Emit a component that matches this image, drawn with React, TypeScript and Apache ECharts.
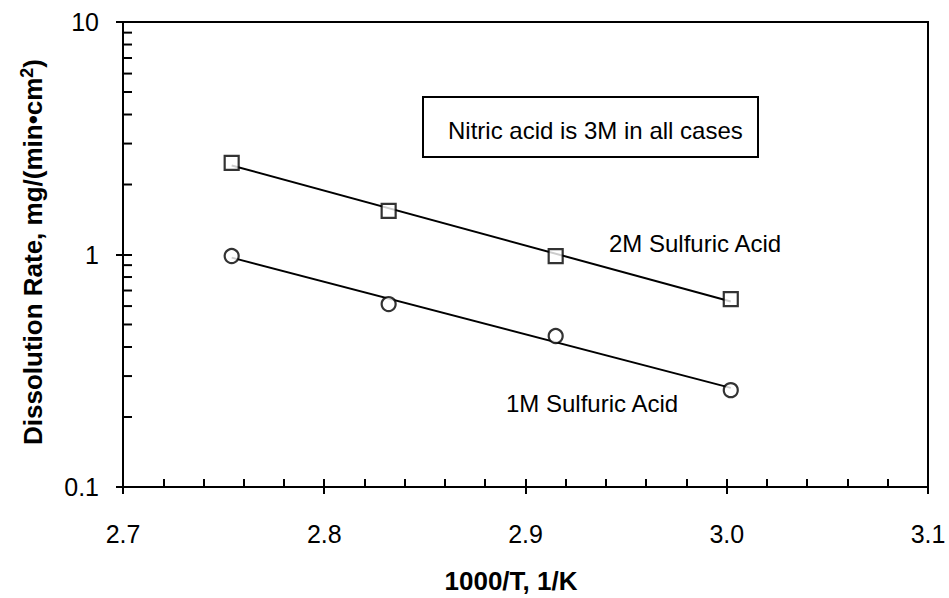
import { useEffect, useRef } from "react";
import * as echarts from "echarts";

// Reciprocal temperature (1000/T, 1/K) for each run
const inverseTemp = [2.754, 2.832, 2.915, 3.002];
// Dissolution rate, mg/(min·cm²)
const rate2M = [2.48, 1.54, 0.985, 0.643];
const rate1M = [0.985, 0.612, 0.446, 0.261];

const xMin = 2.7;
const xMax = 3.1;
const xStep = 0.1;
const yMin = 0.1;
const yMax = 10;
// Log-axis minor tick values (2..9 in each decade)
const yMinorTicks = [0.2, 0.3, 0.4, 0.5, 0.6, 0.7, 0.8, 0.9, 2, 3, 4, 5, 6, 7, 8, 9];

const FONT = "'Liberation Sans', Arial, Helvetica, sans-serif";

// Least-squares fit of log10(rate) against 1000/T, returned as the two end points
function arrheniusFit(xs: number[], ys: number[]): number[][] {
  const n = xs.length;
  const ly = ys.map((v) => Math.log10(v));
  const mx = xs.reduce((a, b) => a + b, 0) / n;
  const my = ly.reduce((a, b) => a + b, 0) / n;
  let sxy = 0;
  let sxx = 0;
  for (let i = 0; i < n; i++) {
    sxy += (xs[i] - mx) * (ly[i] - my);
    sxx += (xs[i] - mx) * (xs[i] - mx);
  }
  const slope = sxy / sxx;
  const icpt = my - slope * mx;
  const x0 = xs[0];
  const x1 = xs[n - 1];
  return [
    [x0, Math.pow(10, icpt + slope * x0)],
    [x1, Math.pow(10, icpt + slope * x1)],
  ];
}

export default function App() {
  const ref = useRef<HTMLDivElement>(null);

  useEffect(() => {
    if (!ref.current) return;
    const chart = echarts.init(ref.current, undefined, { renderer: "svg" });

    const gridLeft = 123;
    const gridRight = 21;
    const gridTop = 22;
    const gridBottom = 111;
    const gridW = 949 - gridLeft - gridRight;
    const gridH = 598 - gridTop - gridBottom;

    const black = "#000";
    const tickStyle = { color: black, width: 2 };

    chart.setOption({
      animation: false,
      backgroundColor: "#fff",
      grid: {
        left: gridLeft,
        right: gridRight,
        top: gridTop,
        bottom: gridBottom,
        show: true,
        borderColor: black,
        borderWidth: 2,
      },
      xAxis: [
        {
          type: "value",
          min: xMin,
          max: xMax,
          interval: xStep,
          axisLine: { lineStyle: tickStyle },
          axisTick: { inside: true, length: 8, lineStyle: tickStyle },
          minorTick: { show: true, splitNumber: 5, length: 8, lineStyle: tickStyle },
          splitLine: { show: false },
          axisLabel: {
            margin: 34,
            fontSize: 25,
            color: black,
            fontFamily: FONT,
            formatter: (v: number) => v.toFixed(1),
          },
        },
        {
          // outer half of the major ticks, sitting on the bottom edge
          type: "value",
          min: xMin,
          max: xMax,
          interval: xStep,
          position: "top",
          offset: -gridH,
          axisLine: { show: false },
          axisTick: { inside: true, length: 7, lineStyle: tickStyle },
          axisLabel: { show: false },
          splitLine: { show: false },
        },
      ],
      yAxis: [
        {
          type: "log",
          logBase: 10,
          min: yMin,
          max: yMax,
          axisLine: { lineStyle: tickStyle },
          axisTick: { inside: true, length: 9, lineStyle: tickStyle },
          splitLine: { show: false },
          axisLabel: {
            margin: 24,
            fontSize: 25,
            color: black,
            fontFamily: FONT,
            formatter: (v: number) => (v < 1 ? v.toFixed(1) : v.toFixed(0)),
          },
        },
        {
          // outer half of the major ticks, sitting on the left edge
          type: "log",
          logBase: 10,
          min: yMin,
          max: yMax,
          position: "right",
          offset: -gridW,
          axisLine: { show: false },
          axisTick: { inside: true, length: 7, lineStyle: tickStyle },
          axisLabel: { show: false },
          splitLine: { show: false },
        },
      ],
      series: [
        {
          type: "custom",
          xAxisIndex: 0,
          yAxisIndex: 0,
          silent: true,
          clip: false,
          z: 5,
          data: yMinorTicks.map((v) => [xMin, v]),
          renderItem: (_p: any, api: any) => {
            const pt = api.coord([api.value(0), api.value(1)]);
            return {
              type: "line",
              shape: { x1: pt[0], y1: pt[1], x2: pt[0] + 9, y2: pt[1] },
              style: { stroke: black, lineWidth: 2 },
            };
          },
        },
        {
          name: "2M fit",
          type: "line",
          data: arrheniusFit(inverseTemp, rate2M),
          symbol: "none",
          lineStyle: { color: black, width: 2 },
          z: 2,
        },
        {
          name: "1M fit",
          type: "line",
          data: arrheniusFit(inverseTemp, rate1M),
          symbol: "none",
          lineStyle: { color: black, width: 2 },
          z: 2,
        },
        {
          name: "2M Sulfuric Acid",
          type: "scatter",
          data: inverseTemp.map((x, i) => [x, rate2M[i]]),
          symbol: "rect",
          symbolSize: 14,
          itemStyle: { color: "#fff", borderColor: black, borderWidth: 2.2 },
          z: 3,
        },
        {
          name: "1M Sulfuric Acid",
          type: "scatter",
          data: inverseTemp.map((x, i) => [x, rate1M[i]]),
          symbol: "circle",
          symbolSize: 14,
          itemStyle: { color: "#fff", borderColor: black, borderWidth: 2.2 },
          z: 3,
        },
      ],
      graphic: [
        {
          type: "rect",
          shape: { x: 423, y: 97, width: 335, height: 60 },
          style: { fill: "#fff", stroke: black, lineWidth: 2 },
          z: 10,
        },
        {
          type: "text",
          x: 448,
          y: 130,
          z: 11,
          style: {
            text: "Nitric acid is 3M in all cases",
            fontSize: 24,
            fontFamily: FONT,
            fill: black,
            align: "left",
            verticalAlign: "middle",
          },
        },
        {
          type: "text",
          x: 609,
          y: 243,
          z: 11,
          style: {
            text: "2M Sulfuric Acid",
            fontSize: 24,
            fontFamily: FONT,
            fill: black,
            align: "left",
            verticalAlign: "middle",
          },
        },
        {
          type: "text",
          x: 506,
          y: 403,
          z: 11,
          style: {
            text: "1M Sulfuric Acid",
            fontSize: 24,
            fontFamily: FONT,
            fill: black,
            align: "left",
            verticalAlign: "middle",
          },
        },
        {
          type: "text",
          x: 511,
          y: 581,
          z: 11,
          style: {
            text: "1000/T, 1/K",
            fontSize: 26,
            fontWeight: "bold",
            fontFamily: FONT,
            fill: black,
            align: "center",
            verticalAlign: "middle",
          },
        },
        {
          type: "text",
          x: 33,
          y: 252,
          rotation: Math.PI / 2,
          z: 11,
          style: {
            text: "{a|Dissolution Rate, mg/(min•cm}{s|2}{a|)}",
            align: "center",
            verticalAlign: "middle",
            fill: black,
            rich: {
              a: {
                fontSize: 26,
                fontWeight: "bold",
                fontFamily: FONT,
                lineHeight: 30,
                fill: black,
              },
              s: {
                fontSize: 18,
                fontWeight: "bold",
                fontFamily: FONT,
                lineHeight: 12,
                verticalAlign: "top",
                fill: black,
              },
            },
          },
        },
      ],
    });

    return () => chart.dispose();
  }, []);

  return (
    <div
      ref={ref}
      style={{ position: "fixed", left: 0, top: 0, width: 949, height: 598, background: "#fff" }}
    />
  );
}
